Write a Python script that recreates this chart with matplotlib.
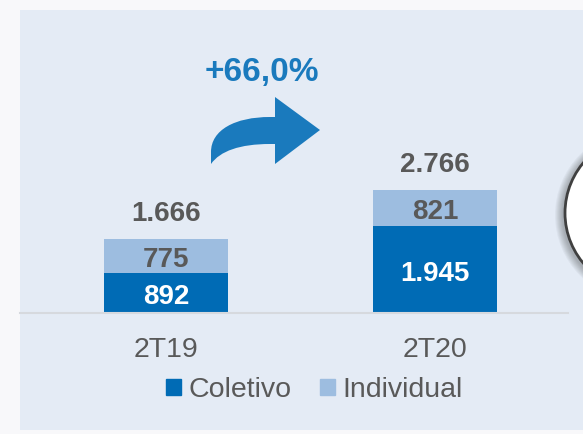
import matplotlib
matplotlib.use("Agg")
import matplotlib.pyplot as plt
from matplotlib.patches import Rectangle, Circle, PathPatch
from matplotlib.path import Path
import numpy as np

plt.rcParams['font.family'] = ['Liberation Sans', 'DejaVu Sans']

categories = ["2T19", "2T20"]
coletivo = [892, 1945]
individual = [775, 821]
totals = [1666, 2766]
coletivo_labels = ["892", "1.945"]
individual_labels = ["775", "821"]
total_labels = ["1.666", "2.766"]
growth_label = "+66,0%"
series_names = ["Coletivo", "Individual"]

C_COL = "#006BB5"
C_IND = "#9DBDE0"
C_BG = "#E4EBF5"
C_TXT = "#595959"
C_ARROW = "#1A7ABD"

W, H = 583, 434
fig = plt.figure(figsize=(W / 100, H / 100), dpi=100)
fig.patch.set_facecolor("#F8F8FA")

def px(x, y):
    return (x / 100.0, (H - y) / 100.0)

# panel background
fig.patches.append(Rectangle(px(20, 430), (W - 20) / 100, 420 / 100,
                             transform=fig.dpi_scale_trans, facecolor=C_BG,
                             edgecolor="none", zorder=-5))

# axes
x_left, x_right, base_y = 20, 568, 313
ax = fig.add_axes([x_left / W, (H - base_y) / H, (x_right - x_left) / W, 133.5 / H])
ax.set_zorder(1)
ax.set_facecolor("none")
xs = np.arange(len(categories))
bw = 0.461
ax.bar(xs, coletivo, bw, color=C_COL, label=series_names[0], zorder=2)
ax.bar(xs, individual, bw, bottom=coletivo, color=C_IND, label=series_names[1], zorder=2)
ax.set_xlim(-0.543, 1.494)
ax.set_ylim(0, 3000)
for s in ["top", "right", "left"]:
    ax.spines[s].set_visible(False)
ax.spines["bottom"].set_color("#D6D9DE")
ax.spines["bottom"].set_linewidth(1.5)
ax.set_yticks([])
ax.set_xticks(xs)
ax.set_xticklabels(categories, fontsize=20.5, color=C_TXT)
ax.tick_params(axis="x", length=0, pad=17)

for i in xs:
    ax.annotate(coletivo_labels[i], (i, coletivo[i] / 2), xytext=(0, -3),
                textcoords="offset points", ha="center", va="center",
                fontsize=20, fontweight="bold", color="white", zorder=3)
    ax.annotate(individual_labels[i], (i, coletivo[i] + individual[i] / 2), xytext=(0, -3),
                textcoords="offset points", ha="center", va="center",
                fontsize=20, fontweight="bold", color=C_TXT, zorder=3)
    ax.annotate(total_labels[i], (i, totals[i]), xytext=(0, 18),
                textcoords="offset points", ha="center", va="center",
                fontsize=20, fontweight="bold", color=C_TXT, annotation_clip=False)

# legend
handles = [Rectangle((0, 0), 1, 1, color=C_COL), Rectangle((0, 0), 1, 1, color=C_IND)]
fig.legend(handles, series_names, loc="center", bbox_to_anchor=(314 / W, (H - 390) / H),
           ncol=2, frameon=False, fontsize=20.5, handlelength=0.53, handleheight=0.53,
           handletextpad=0.25, columnspacing=1.0, labelcolor=C_TXT)

# growth arrow
def P(x, y):
    return px(x, y)
verts = [P(211, 164), P(211, 152),
         P(211, 130), P(235, 117), P(270, 117),
         P(275, 117), P(275, 97), P(320, 130), P(275, 164), P(275, 144), P(270, 144),
         P(240, 144), P(220, 151), P(211, 164), P(211, 164)]
codes = [Path.MOVETO, Path.LINETO,
         Path.CURVE4, Path.CURVE4, Path.CURVE4,
         Path.LINETO, Path.LINETO, Path.LINETO, Path.LINETO, Path.LINETO, Path.LINETO,
         Path.CURVE4, Path.CURVE4, Path.CURVE4, Path.CLOSEPOLY]
fig.patches.append(PathPatch(Path(verts, codes), transform=fig.dpi_scale_trans,
                             facecolor=C_ARROW, edgecolor="none", zorder=2))
fig.text(262 / W, (H - 73) / H, growth_label, ha="center", va="center",
         fontsize=24, fontweight="bold", color=C_ARROW)

# partial circle on the right with soft shadow
cx, cy, r = 643, 213, 78
for k in range(8, 0, -1):
    fig.patches.append(Circle(px(cx - 2, cy + 2), (r + k) / 100, transform=fig.dpi_scale_trans,
                              facecolor="#000000", alpha=0.035, edgecolor="none", zorder=1))
fig.patches.append(Circle(px(cx, cy), r / 100, transform=fig.dpi_scale_trans,
                          facecolor="white", edgecolor="#404040", linewidth=2, zorder=2))

fig.savefig("out.png", dpi=100, facecolor=fig.get_facecolor())
